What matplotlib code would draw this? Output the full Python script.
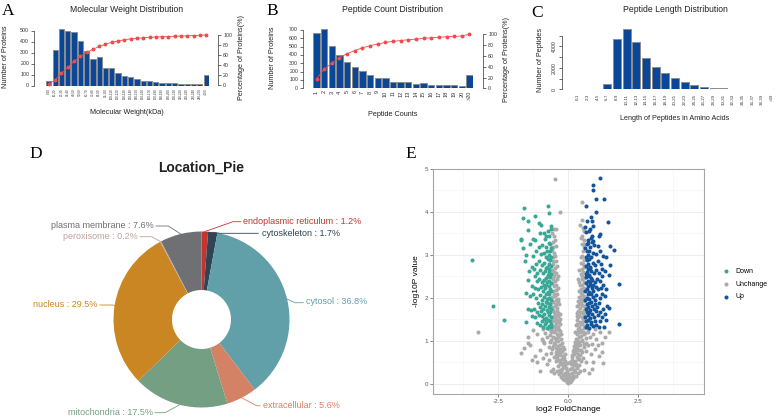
import numpy as np
import matplotlib
matplotlib.use("Agg")
import matplotlib.pyplot as plt

# -------- CONFIG --------
W, H = 777, 417
DPI = 100
OUTPUT_PATH = "out.png"

BAR_BLUE = "#0A4799"
BAR_EDGE = "#8C8C8C"
LINE_RED = "#F24B4B"
AXIS_COL = "#333333"

plt.rcParams["font.family"] = ["Liberation Sans", "DejaVu Sans"]
# ------------------------

# -------- DATA --------
MW_LABELS = ["0-10", "10-20", "20-30", "30-40", "40-50", "50-60", "60-70", "70-80",
             "80-90", "90-100", "100-110", "110-120", "120-130", "130-140", "140-150",
             "150-160", "160-170", "170-180", "180-190", "190-200", "200-210",
             "210-220", "220-230", "230-240", "240-250", ">250"]
MW_COUNTS = [40, 325, 510, 495, 490, 405, 315, 240, 260, 155, 160, 110, 90, 75, 55,
             40, 45, 35, 20, 25, 22, 18, 18, 12, 12, 100]
MW_CUM = [2, 10, 23, 35, 47, 57, 65, 71, 77, 81, 85, 88, 90, 92, 93, 94, 95, 95.5,
          96, 96.5, 97, 97.5, 98, 98.5, 98.8, 100]

PC_LABELS = ["1", "2", "3", "4", "5", "6", "7", "8", "9", "10", "11", "12", "13",
             "14", "15", "16", "17", "18", "19", "20", ">20"]
PC_COUNTS = [660, 710, 510, 395, 315, 255, 210, 165, 125, 125, 80, 75, 75, 55, 60,
             40, 45, 35, 35, 25, 165]
PC_CUM = [18, 35, 47, 57, 64, 70, 75, 79, 82, 85, 87, 88.5, 90, 91, 92.5, 93.5,
          94.5, 95.5, 96, 97, 100]

PL_LABELS = ["0-1", "2-3", "4-5", "6-7", "8-9", "10-11", "12-13", "14-15", "16-17",
             "18-19", "20-21", "22-23", "24-25", "26-27", "28-29", "30-31", "32-33",
             "34-35", "36-37", "38-39", ">39"]
PL_COUNTS = [20, 20, 20, 450, 4700, 5650, 4450, 2950, 2050, 1480, 1050, 670, 420,
             260, 150, 100, 70, 55, 45, 35, 35]

LOC_NAMES = ["endoplasmic reticulum", "cytoskeleton", "cytosol", "extracellular",
             "mitochondria", "nucleus", "peroxisome", "plasma membrane"]
LOC_PCT = [1.2, 1.7, 36.8, 5.6, 17.5, 29.5, 0.2, 7.6]
LOC_COLORS = ["#C23531", "#2F4554", "#61A0A8", "#D48265", "#749F83", "#CA8622",
              "#BDA29A", "#6E7074"]

DOWN_PTS = [
    (-0.62, 1.32), (-0.68, 1.35), (-0.75, 1.31), (-0.82, 1.38), (-0.9, 1.33), (-1.0, 1.36),
    (-0.65, 1.45), (-0.72, 1.48), (-0.8, 1.44), (-0.95, 1.47), (-1.1, 1.42), (-0.6, 1.4),
    (-0.87, 1.5), (-1.5, 1.43),
    (-0.63, 1.55), (-0.7, 1.6), (-0.78, 1.53), (-0.85, 1.62), (-0.92, 1.57), (-1.05, 1.6),
    (-1.18, 1.55), (-1.29, 1.57), (-0.66, 1.68), (-0.74, 1.66), (-0.98, 1.69), (-1.12, 1.67),
    (-0.61, 1.74), (-0.69, 1.78), (-0.77, 1.72), (-0.84, 1.8), (-0.9, 1.75), (-1.02, 1.78),
    (-1.21, 1.73), (-1.45, 1.73), (-1.32, 1.71), (-0.65, 1.86), (-0.73, 1.88), (-0.81, 1.9),
    (-0.95, 1.85), (-1.08, 1.88),
    (-0.62, 1.95), (-0.68, 2.0), (-0.76, 1.97), (-0.86, 2.02), (-0.93, 1.96), (-1.15, 2.0),
    (-1.36, 2.04), (-1.5, 2.11), (-0.7, 2.08), (-0.8, 2.1), (-1.0, 2.06), (-1.25, 2.1),
    (-0.6, 2.15), (-0.66, 2.2), (-0.74, 2.14), (-0.83, 2.22), (-0.9, 2.17), (-0.97, 2.25),
    (-1.07, 2.2), (-1.2, 2.24), (-0.7, 2.28), (-0.78, 2.3), (-0.88, 2.29), (-1.3, 2.28),
    (-0.62, 2.35), (-0.69, 2.4), (-0.76, 2.36), (-0.85, 2.42), (-0.94, 2.38), (-1.03, 2.45),
    (-1.45, 2.42), (-1.12, 2.4), (-0.64, 2.48), (-0.72, 2.5), (-0.8, 2.47), (-1.18, 2.5),
    (-0.61, 2.55), (-0.67, 2.6), (-0.74, 2.54), (-0.82, 2.62), (-0.9, 2.57), (-1.0, 2.65),
    (-1.39, 2.62), (-1.1, 2.58), (-0.7, 2.68), (-0.78, 2.7), (-1.22, 2.68),
    (-0.63, 2.75), (-0.69, 2.8), (-0.77, 2.73), (-0.86, 2.82), (-0.95, 2.77), (-1.3, 2.73),
    (-1.05, 2.85), (-0.66, 2.88), (-0.74, 2.9), (-1.15, 2.8), (-1.55, 2.85),
    (-0.62, 2.95), (-0.7, 3.0), (-0.8, 2.96), (-0.88, 3.05), (-0.99, 3.03), (-1.51, 3.0),
    (-1.15, 3.1), (-0.65, 3.08), (-0.75, 3.1), (-1.25, 2.98),
    (-0.6, 3.15), (-0.7, 3.27), (-0.78, 3.18), (-1.06, 3.19), (-1.62, 3.16), (-0.92, 3.22),
    (-0.66, 3.25), (-1.35, 3.25),
    (-0.83, 3.38), (-1.26, 3.38), (-1.19, 3.35), (-1.68, 3.35), (-1.69, 3.38), (-0.85, 3.51),
    (-0.79, 3.44), (-1.43, 3.58), (-0.62, 3.61), (-0.63, 3.68), (-0.96, 3.69), (-1.06, 3.74),
    (-0.69, 3.98), (-1.17, 3.91), (-1.45, 3.8), (-1.63, 3.87), (-0.73, 4.13), (-1.58, 4.10),
    (-0.68, 3.45), (-1.0, 3.5), (-0.72, 3.55),
    (-3.42, 2.89), (-2.68, 1.80), (-2.31, 1.49),
]

UP_PTS = [
    (0.62, 1.32), (0.68, 1.36), (0.75, 1.31), (0.83, 1.38), (0.9, 1.34), (1.0, 1.37),
    (1.1, 1.33), (1.29, 1.32), (0.65, 1.46), (0.72, 1.48), (0.8, 1.44), (0.95, 1.47),
    (1.36, 1.49), (1.82, 1.40), (1.15, 1.45),
    (0.61, 1.55), (0.69, 1.6), (0.77, 1.53), (0.86, 1.62), (0.93, 1.56), (1.05, 1.6),
    (1.2, 1.55), (0.66, 1.68), (0.74, 1.66), (0.99, 1.69), (1.13, 1.67), (1.3, 1.62),
    (0.62, 1.74), (0.7, 1.79), (0.78, 1.72), (0.85, 1.8), (0.91, 1.75), (1.03, 1.78),
    (1.4, 1.8), (1.44, 1.76), (1.25, 1.73), (0.66, 1.86), (0.73, 1.88), (0.82, 1.9),
    (0.96, 1.85), (1.1, 1.88),
    (0.61, 1.95), (0.68, 2.0), (0.76, 1.97), (0.87, 2.02), (0.94, 1.96), (1.15, 2.0),
    (1.3, 2.05), (0.71, 2.08), (0.8, 2.1), (1.01, 2.06), (1.22, 2.1),
    (0.6, 2.15), (0.67, 2.2), (0.75, 2.14), (0.84, 2.22), (0.9, 2.17), (0.98, 2.25),
    (1.08, 2.2), (1.18, 2.24), (1.35, 2.2), (0.7, 2.28), (0.79, 2.3), (0.88, 2.29),
    (1.8, 2.33), (1.25, 2.3),
    (0.63, 2.35), (0.7, 2.4), (0.77, 2.36), (0.86, 2.42), (0.95, 2.38), (1.04, 2.45),
    (1.12, 2.4), (1.45, 2.54), (0.65, 2.48), (0.73, 2.5), (0.82, 2.47), (1.2, 2.5),
    (0.62, 2.55), (0.68, 2.6), (0.75, 2.54), (0.83, 2.62), (0.91, 2.57), (1.0, 2.65),
    (1.1, 2.58), (1.3, 2.62), (0.71, 2.68), (0.79, 2.7), (1.2, 2.68),
    (0.64, 2.75), (0.7, 2.8), (0.78, 2.73), (0.87, 2.82), (0.96, 2.77), (1.48, 2.77),
    (1.06, 2.85), (0.67, 2.88), (0.75, 2.9), (1.16, 2.8),
    (0.63, 2.95), (0.71, 3.0), (0.81, 2.96), (0.89, 3.05), (1.0, 3.03), (1.36, 2.96),
    (1.15, 3.1), (0.66, 3.08), (0.76, 3.1), (1.25, 2.98),
    (0.61, 3.15), (0.71, 3.27), (0.79, 3.18), (0.93, 3.22), (1.05, 3.2), (1.5, 3.21),
    (1.62, 3.12), (0.67, 3.25), (0.85, 3.3),
    (0.7, 3.35), (0.8, 3.4), (0.9, 3.33), (1.10, 3.43), (1.14, 3.48), (0.63, 3.54),
    (0.75, 3.56), (0.85, 3.45),
    (0.61, 3.66), (0.88, 3.68), (0.67, 3.79), (0.85, 3.80), (1.42, 3.77), (0.82, 3.89),
    (0.99, 4.0), (0.65, 4.15), (1.0, 4.30), (1.27, 4.31), (0.90, 4.51), (0.90, 4.62),
    (1.14, 4.78), (0.78, 3.6),
]

UNCHANGE_PTS = [
    (0.0, 0.02), (-0.05, 0.05), (0.05, 0.04), (-0.1, 0.08), (0.1, 0.07), (-0.15, 0.12),
    (0.14, 0.1), (0.0, 0.12), (-0.08, 0.15), (0.08, 0.16), (-0.2, 0.2), (0.18, 0.19),
    (-0.03, 0.2), (0.03, 0.22), (-0.12, 0.25), (0.12, 0.26), (-0.25, 0.28), (0.23, 0.27),
    (-0.3, 0.32), (-0.22, 0.35), (-0.15, 0.38), (-0.08, 0.36), (0.08, 0.34), (0.15, 0.37),
    (0.22, 0.33), (0.3, 0.36), (-0.38, 0.42), (-0.28, 0.45), (-0.18, 0.48), (-0.1, 0.44),
    (0.1, 0.45), (0.2, 0.43), (0.28, 0.47), (0.38, 0.44), (-0.45, 0.52), (-0.33, 0.55),
    (-0.24, 0.58), (-0.13, 0.53), (0.13, 0.55), (0.25, 0.52), (0.35, 0.57), (0.45, 0.54),
    (-0.55, 0.35), (-0.62, 0.3), (0.55, 0.32), (0.75, 0.26), (1.25, 0.49), (-0.5, 0.25),
    (-0.5, 0.62), (-0.4, 0.65), (-0.3, 0.68), (-0.2, 0.64), (-0.12, 0.7), (0.12, 0.66),
    (0.22, 0.69), (0.32, 0.63), (0.42, 0.67), (0.52, 0.61), (-0.6, 0.72), (-0.45, 0.75),
    (-0.35, 0.78), (-0.25, 0.74), (-0.16, 0.8), (0.17, 0.77), (0.27, 0.75), (0.38, 0.79),
    (0.48, 0.73), (0.62, 0.76), (-0.7, 0.85), (-0.55, 0.88), (-0.42, 0.84), (-0.3, 0.9),
    (-0.2, 0.86), (0.2, 0.88), (0.3, 0.85), (0.43, 0.91), (0.55, 0.86), (0.7, 0.9),
    (-0.85, 0.95), (-0.65, 0.98), (-0.5, 0.96), (-0.37, 0.99), (-0.24, 0.94), (0.24, 0.97),
    (0.36, 0.93), (0.5, 0.99), (0.65, 0.95), (0.85, 0.92), (-1.68, 0.72), (-1.57, 0.84),
    (-1.2, 0.65), (-1.0, 0.78), (-0.9, 0.6), (-1.35, 0.9), (0.95, 0.8), (1.1, 0.65),
    (1.2, 0.95), (0.8, 0.7), (-0.8, 0.7), (-1.1, 0.5), (0.9, 0.5),
    (-0.95, 1.05), (-0.75, 1.08), (-0.6, 1.02), (-0.48, 1.06), (-0.36, 1.1), (-0.27, 1.04),
    (0.27, 1.05), (0.38, 1.09), (0.5, 1.03), (0.62, 1.07), (0.78, 1.1), (1.0, 1.05),
    (-1.1, 1.15), (-0.82, 1.18), (-0.66, 1.14), (-0.52, 1.2), (-0.4, 1.16), (-0.3, 1.22),
    (0.3, 1.17), (0.42, 1.2), (0.55, 1.15), (0.7, 1.21), (0.88, 1.16), (1.15, 1.2),
    (-1.25, 1.25), (-0.9, 1.27), (-0.7, 1.28), (-0.58, 1.25), (-0.45, 1.29), (-0.34, 1.26),
    (0.34, 1.28), (0.46, 1.25), (0.58, 1.29), (0.72, 1.26), (0.95, 1.28), (1.3, 1.1),
    (-3.21, 1.21), (-1.45, 1.1), (1.45, 1.2),
    (-0.55, 1.35), (-0.45, 1.38), (-0.36, 1.33), (-0.28, 1.4), (0.28, 1.36), (0.37, 1.32),
    (0.46, 1.39), (0.55, 1.34), (-0.52, 1.45), (-0.42, 1.5), (-0.33, 1.47), (0.32, 1.48),
    (0.42, 1.44), (0.52, 1.5), (-0.56, 1.55), (-0.47, 1.6), (-0.38, 1.58), (-0.3, 1.62),
    (0.3, 1.57), (0.39, 1.61), (0.48, 1.55), (0.57, 1.6), (-0.5, 1.68), (-0.4, 1.7),
    (0.35, 1.7), (0.45, 1.67), (0.55, 1.72),
    (-0.57, 1.78), (-0.48, 1.8), (-0.4, 1.76), (-0.33, 1.85), (0.33, 1.8), (0.42, 1.77),
    (0.5, 1.84), (0.58, 1.8), (-0.53, 1.9), (-0.44, 1.95), (-0.36, 1.92), (0.36, 1.93),
    (0.45, 1.9), (0.53, 1.97), (-0.58, 2.02), (-0.49, 2.05), (-0.4, 2.08), (0.4, 2.03),
    (0.48, 2.07), (0.57, 2.04), (-0.55, 2.15), (-0.45, 2.18), (-0.38, 2.22), (0.38, 2.16),
    (0.46, 2.2), (0.55, 2.24), (-0.5, 2.28), (0.5, 2.3),
    (-0.57, 2.35), (-0.47, 2.4), (-0.4, 2.45), (0.4, 2.38), (0.48, 2.43), (0.57, 2.46),
    (-0.52, 2.52), (-0.44, 2.58), (0.44, 2.55), (0.53, 2.6), (-0.57, 2.65), (-0.48, 2.7),
    (0.48, 2.68), (0.57, 2.73), (-0.53, 2.8), (-0.45, 2.86), (0.45, 2.82), (0.55, 2.88),
    (-0.56, 2.95), (0.5, 2.97),
    (-0.5, 3.05), (-0.58, 3.12), (-0.45, 3.2), (0.52, 3.08), (0.58, 3.18), (0.48, 3.25),
    (-0.55, 3.3), (-0.5, 3.45), (0.55, 3.35), (0.5, 3.45), (-0.57, 3.52), (0.58, 3.55),
    (-0.49, 4.76), (-0.31, 4.01), (0.49, 4.24), (0.49, 3.82), (-0.42, 3.6), (0.42, 3.7),
    (-0.18, 0.1), (-0.27, 0.15), (-0.33, 0.22), (-0.4, 0.3), (-0.06, 0.3), (-0.2, 0.41),
    (-0.3, 0.5), (-0.4, 0.57), (-0.06, 0.48), (0.06, 0.5), (0.18, 0.13), (0.27, 0.18),
    (0.34, 0.24), (0.42, 0.29), (0.2, 0.5), (0.3, 0.4), (0.4, 0.58),
    (-0.45, 0.66), (-0.35, 0.72), (-0.28, 0.82), (-0.38, 0.88), (-0.47, 0.92), (-0.58, 0.8),
    (0.36, 0.7), (0.44, 0.78), (0.33, 0.8), (0.26, 0.9), (0.4, 0.97), (0.58, 0.93),
    (-0.15, 0.6), (0.15, 0.62), (-0.22, 0.76), (0.22, 0.8),
    (-0.42, 1.02), (-0.55, 1.1), (-0.32, 1.13), (-0.47, 1.22), (-0.38, 1.27), (0.32, 1.01),
    (0.44, 1.12), (0.36, 1.24), (0.52, 1.2), (0.6, 1.18), (-0.62, 1.2), (-0.25, 1.15),
    (0.25, 1.2),
    (-0.48, 1.32), (-0.4, 1.43), (-0.58, 1.48), (-0.5, 1.58), (-0.35, 1.65), (-0.55, 1.72),
    (-0.45, 1.85), (-0.38, 1.98), (-0.58, 1.92), (0.33, 1.4), (0.5, 1.42), (0.58, 1.45),
    (0.35, 1.55), (0.52, 1.65), (0.4, 1.85), (0.55, 1.92), (0.47, 1.98), (-0.3, 1.5),
    (0.3, 1.65),
    (-0.52, 2.1), (-0.42, 2.3), (-0.55, 2.45), (-0.5, 2.6), (-0.4, 2.75), (-0.55, 2.85),
    (-0.48, 2.98), (0.44, 2.12), (0.52, 2.15), (0.42, 2.3), (0.55, 2.38), (0.5, 2.52),
    (0.4, 2.65), (0.53, 2.78), (0.46, 2.95), (-0.35, 2.5), (0.36, 2.45),
    (-0.53, 3.18), (-0.47, 3.35), (0.55, 3.25), (0.45, 3.4), (-0.52, 3.6), (0.53, 3.62),
    (-1.0, 0.3), (-0.75, 0.45), (-1.3, 0.55), (0.85, 0.35), (1.05, 0.9), (0.65, 0.5),
    (-0.68, 0.55), (-0.9, 1.0), (1.2, 0.75), (-1.45, 0.95),
]

# -------- LAYOUT (pixels, from top-left) --------
PIE_CX, PIE_CY, PIE_SCALE = 201.5, 319.5, 100.0
# (bend point, end point, text anchor, ha) for each pie label
PIE_LABEL_LAYOUT = [
    ((233, 221.7), (240.7, 221.7), (243, 222), "left"),
    ((220, 233.3), (258.3, 233.3), (261.5, 233), "left"),
    ((295, 302.7), (303.3, 302.7), (305.5, 302), "left"),
    ((256.7, 405.7), (260, 405.7), (263, 405.5), "left"),
    ((165, 412.7), (155, 412.7), (152.5, 412.5), "right"),
    ((113.3, 305), (100, 305), (97.5, 304.5), "right"),
    ((151.7, 236.7), (140, 236.7), (137.5, 236.5), "right"),
    ((168.3, 226), (156, 226), (153.5, 225.5), "right"),
]

fig = plt.figure(figsize=(W / DPI, H / DPI), dpi=DPI)


def px_axes(l, t, r, b):
    return fig.add_axes([l / W, 1 - b / H, (r - l) / W, (b - t) / H])


def fx(x):
    return x / W


def fy(y):
    return 1 - y / H


def bar_panel(rect, counts, labels, ylim, yticks, ylabels, xlab_size, left_off,
              xlab_pad, cum=None, ylim2=None, right_off=0, ytick_rot=0):
    ax = px_axes(*rect)
    x = np.arange(len(counts))
    ax.bar(x, counts, width=0.83, color=BAR_BLUE, edgecolor=BAR_EDGE, linewidth=0.7)
    ax.set_xlim(-0.5, len(counts) - 0.5)
    ax.set_ylim(*ylim)
    for s in ["top", "right", "bottom"]:
        ax.spines[s].set_visible(False)
    ax.spines["left"].set_position(("outward", left_off))
    ax.spines["left"].set_bounds(yticks[0], yticks[-1])
    ax.spines["left"].set_linewidth(0.5)
    ax.spines["left"].set_color(AXIS_COL)
    ax.set_yticks(yticks)
    ax.set_yticklabels(ylabels, rotation=ytick_rot, va="center")
    ax.tick_params(axis="y", length=2, width=0.5, pad=1.5, labelsize=3.8,
                   color=AXIS_COL, labelcolor=AXIS_COL)
    ax.set_xticks(x)
    ax.set_xticklabels(labels, rotation=90, fontsize=xlab_size, color=AXIS_COL)
    ax.tick_params(axis="x", length=0, pad=xlab_pad)
    if cum is not None:
        ax2 = ax.twinx()
        ax2.plot(x, cum, color=LINE_RED, lw=0.6, marker="o", ms=1.8, mec=LINE_RED)
        ax2.set_ylim(*ylim2)
        for s in ["top", "left", "bottom"]:
            ax2.spines[s].set_visible(False)
        ax2.spines["right"].set_position(("outward", right_off))
        ax2.spines["right"].set_bounds(0, 100)
        ax2.spines["right"].set_linewidth(0.5)
        ax2.spines["right"].set_color(AXIS_COL)
        ax2.set_yticks([0, 20, 40, 60, 80, 100])
        ax2.tick_params(axis="y", length=2, width=0.5, pad=1.5, labelsize=3.8,
                        color=AXIS_COL, labelcolor=AXIS_COL)
    return ax


# -------- PANEL A --------
bar_panel((45.7, 27.75, 209.3, 85.5), MW_COUNTS, MW_LABELS, (0, 525),
          [0, 100, 200, 300, 400, 500], ["0", "100", "200", "300", "400", "500"],
          2.2, 8.4, 2.0, cum=MW_CUM, ylim2=(-1, 114), right_off=6.5)
fig.text(fx(127), fy(9), "Molecular Weight Distribution", ha="center", va="center",
         fontsize=6.2, color="#222222")
fig.text(fx(127), fy(112), "Molecular Weight(kDa)", ha="center", va="center",
         fontsize=5.2, color="#222222")
fig.text(fx(6), fy(57), "Number of Proteins", ha="center", va="center", rotation=90,
         fontsize=5.2, color="#222222")
fig.text(fx(241.5), fy(57), "Percentage of Proteins(%)", ha="center", va="center",
         rotation=90, fontsize=5.2, color="#222222")

# -------- PANEL B --------
bar_panel((312.7, 28, 473.3, 88.3), PC_COUNTS, PC_LABELS, (0, 724),
          [0, 100, 200, 300, 400, 500, 600, 700],
          ["0", "100", "200", "300", "400", "500", "600", "700"],
          4.0, 7.0, 1.5, cum=PC_CUM, ylim2=(0, 111.7), right_off=7.2)
fig.text(fx(393), fy(9.5), "Peptide Count Distribution", ha="center", va="center",
         fontsize=6.2, color="#222222")
fig.text(fx(392.5), fy(115), "Peptide Counts", ha="center", va="center",
         fontsize=5.2, color="#222222")
fig.text(fx(272), fy(58), "Number of Proteins", ha="center", va="center", rotation=90,
         fontsize=5.2, color="#222222")
fig.text(fx(507), fy(60), "Percentage of Proteins(%)", ha="center", va="center",
         rotation=90, fontsize=5.2, color="#222222")

# -------- PANEL C --------
bar_panel((573.3, 28, 776.7, 89.3), PL_COUNTS, PL_LABELS, (0, 5718),
          [0, 1000, 2000, 3000, 4000, 5000], ["0", "", "2000", "", "4000", ""],
          3.2, 8.4, 3.3, ytick_rot=90)
fig.text(fx(675), fy(10), "Peptide Length Distribution", ha="center", va="center",
         fontsize=6.2, color="#222222")
fig.text(fx(675), fy(118.3), "Length of Peptides in Amino Acids", ha="center",
         va="center", fontsize=5.2, color="#222222")
fig.text(fx(540), fy(60), "Number of Peptides", ha="center", va="center", rotation=90,
         fontsize=5.2, color="#222222")

# -------- PANEL D (donut) --------
axp = px_axes(PIE_CX - PIE_SCALE, PIE_CY - PIE_SCALE, PIE_CX + PIE_SCALE,
              PIE_CY + PIE_SCALE)
wedges, _ = axp.pie(LOC_PCT, colors=LOC_COLORS, startangle=90, counterclock=False,
                    radius=0.88, wedgeprops=dict(width=0.585, linewidth=0))
axp.set_xlim(-1, 1)
axp.set_ylim(-1, 1)
axp.axis("off")


def to_pie(px, py):
    return (px - PIE_CX) / PIE_SCALE, (PIE_CY - py) / PIE_SCALE


for w, name, pct, col, (bend, end, tpos, ha) in zip(wedges, LOC_NAMES, LOC_PCT,
                                                      LOC_COLORS, PIE_LABEL_LAYOUT):
    mid = np.deg2rad((w.theta1 + w.theta2) / 2)
    ex, ey = 0.88 * np.cos(mid), 0.88 * np.sin(mid)
    bx, by = to_pie(*bend)
    nx, ny = to_pie(*end)
    axp.plot([ex, bx, nx], [ey, by, ny], color=col, lw=0.6, clip_on=False)
    fig.text(fx(tpos[0]), fy(tpos[1]), f"{name} : {pct}%", color=col, ha=ha,
             va="center", fontsize=6.5)

fig.text(fx(201), fy(168), "Location_Pie", ha="center", va="center", fontsize=10,
         fontweight="bold", color="#222222")

# -------- PANEL E (volcano) --------
axv = px_axes(433, 169, 704, 394)
ux, uy = zip(*UNCHANGE_PTS)
dx, dy = zip(*DOWN_PTS)
upx, upy = zip(*UP_PTS)
axv.scatter(ux, uy, s=8.5, color="#ABABAB", linewidths=0, label="Unchange", zorder=2)
axv.scatter(dx, dy, s=8.5, color="#3AA897", linewidths=0, label="Down", zorder=3)
axv.scatter(upx, upy, s=8.5, color="#13569E", linewidths=0, label="Up", zorder=3)
axv.set_xlim(-4.83, 4.85)
axv.set_ylim(-0.238, 5.0)
axv.set_xticks([-2.5, 0, 2.5])
axv.set_xticklabels(["-2.5", "0.0", "2.5"])
axv.set_xticks([-3.75, -1.25, 1.25, 3.75], minor=True)
axv.set_yticks([0, 1, 2, 3, 4, 5])
axv.set_yticks([0.5, 1.5, 2.5, 3.5, 4.5], minor=True)
axv.grid(which="major", color="#EBEBEB", lw=0.6)
axv.grid(which="minor", color="#F3F3F3", lw=0.4)
axv.set_axisbelow(True)
axv.tick_params(which="major", length=2, width=0.5, color="#555555", labelsize=4.5,
                labelcolor="#555555", pad=1.5)
axv.tick_params(which="minor", length=0)
for s in axv.spines.values():
    s.set_color("#A6A6A6")
    s.set_linewidth(0.8)
axv.set_xlabel("log2 FoldChange", fontsize=6, labelpad=1.5)
fig.text(fx(416), fy(281), "-log10P value", ha="center", va="center", rotation=90,
         fontsize=6)

h, l = axv.get_legend_handles_labels()
order = [1, 0, 2]
fig.legend([h[i] for i in order], [l[i] for i in order], loc="center left",
           bbox_to_anchor=(fx(719.5), fy(284)), frameon=False, fontsize=5,
           borderpad=0, handlelength=1, handletextpad=0.8, labelspacing=0.84,
           scatterpoints=1, markerscale=1)

# -------- PANEL LETTERS --------
for letter, (lx, ly) in zip(["A", "B", "C", "D", "E"],
                            [(2, 3), (266.7, 3), (531.7, 5), (29.3, 146), (405, 146)]):
    fig.text(fx(lx), fy(ly), letter, ha="left", va="top", fontsize=12.5,
             family="Liberation Serif")

fig.savefig(OUTPUT_PATH, dpi=DPI)
